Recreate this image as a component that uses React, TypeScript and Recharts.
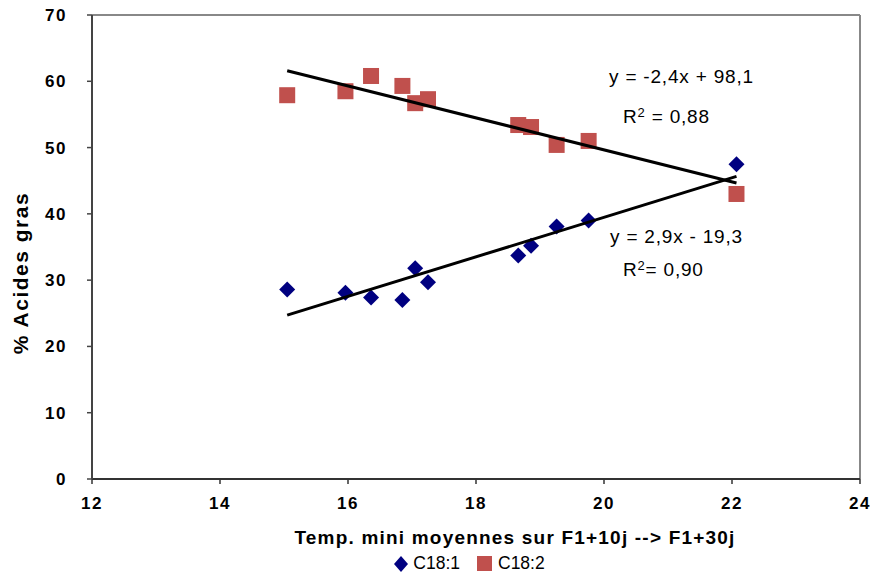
import {
  Legend,
  ReferenceLine,
  Scatter,
  ScatterChart,
  XAxis,
  YAxis,
} from 'recharts'

// temperatures (same for both fatty acids)
const temperatures = [15.05, 15.96, 16.36, 16.85, 17.05, 17.25, 18.66, 18.86, 19.26, 19.76, 22.07]
const c181 = [28.6, 28.1, 27.4, 27.0, 31.8, 29.7, 33.7, 35.2, 38.1, 39.0, 47.5]
const c182 = [57.9, 58.5, 60.8, 59.3, 56.7, 57.3, 53.4, 53.1, 50.4, 51.0, 43.0]

const xTicks = [12, 14, 16, 18, 20, 22, 24]
const yTicks = [0, 10, 20, 30, 40, 50, 60, 70]

const equations = [
  { eq: 'y = -2,4x + 98,1', r2: '0,88' },
  { eq: 'y = 2,9x - 19,3', r2: '0,90' },
]

const dataC181 = temperatures.map((x, i) => ({ x, y: c181[i] }))
const dataC182 = temperatures.map((x, i) => ({ x, y: c182[i] }))

const FONT = '"Liberation Sans", Arial, sans-serif'
const BLUE = '#000080'
const RED = '#C0504D'

const Diamond = (props: any) => {
  const { cx, cy } = props
  if (cx == null || cy == null) return <g />
  const r = 8
  return (
    <polygon
      points={`${cx},${cy - r} ${cx + r},${cy} ${cx},${cy + r} ${cx - r},${cy}`}
      fill={BLUE}
    />
  )
}

const Square = (props: any) => {
  const { cx, cy } = props
  if (cx == null || cy == null) return <g />
  return <rect x={cx - 8} y={cy - 8} width={16} height={16} fill={RED} />
}

const NoDot = () => <g />

const renderLegend = (props: any) => {
  const items = (props.payload || []).filter((p: any) => p.type !== 'none')
  return (
    <div
      style={{
        display: 'flex',
        justifyContent: 'center',
        alignItems: 'center',
        paddingLeft: 68,
        fontFamily: FONT,
        fontSize: '17.5px',
        color: '#000',
        height: 25,
        gap: 17,
      }}
    >
      {items.map((item: any) => (
        <div key={item.value} style={{ display: 'flex', alignItems: 'center' }}>
          {item.value === 'C18:1' ? (
            <svg width={14} height={16} style={{ marginRight: 5, flexShrink: 0 }}>
              <polygon points="7,0 14,8 7,16 0,8" fill={BLUE} />
            </svg>
          ) : (
            <svg width={15} height={15} style={{ marginRight: 6, flexShrink: 0 }}>
              <rect x={0} y={0} width={15} height={15} fill={RED} />
            </svg>
          )}
          <span>{item.value}</span>
        </div>
      ))}
    </div>
  )
}

const eqStyle = {
  position: 'absolute' as const,
  fontFamily: FONT,
  fontSize: 19,
  letterSpacing: 0.8,
  lineHeight: '20px',
  color: '#000',
  whiteSpace: 'nowrap' as const,
}

export default function App() {
  return (
    <div style={{ position: 'absolute', left: 0, top: 0, width: 871, height: 576, background: '#fff' }}>
      <ScatterChart
        width={871}
        height={576}
        margin={{ top: 15, right: 11, bottom: 0, left: 0 }}
      >
        <XAxis
          type="number"
          dataKey="x"
          domain={[12, 24]}
          ticks={xTicks}
          interval={0}
          tickSize={5}
          tickMargin={13}
          height={72}
          axisLine={{ stroke: '#333', strokeWidth: 2 }}
          tickLine={{ stroke: '#333', strokeWidth: 1.5 }}
          tick={{ fontSize: 17, fontWeight: 'bold', fill: '#000', fontFamily: FONT, letterSpacing: 1.5 }}
          label={{
            content: () => (
              <text
                x={515}
                y={537}
                textAnchor="middle"
                dominantBaseline="central"
                fontFamily={FONT}
                fontWeight="bold"
                fontSize={19}
                letterSpacing={1.2}
                fill="#000"
              >
                Temp. mini moyennes sur F1+10j --&gt; F1+30j
              </text>
            ),
          }}
        />
        <YAxis
          type="number"
          dataKey="y"
          domain={[0, 70]}
          ticks={yTicks}
          interval={0}
          width={92}
          tickSize={5}
          tickMargin={20}
          axisLine={{ stroke: '#444', strokeWidth: 2 }}
          tickLine={{ stroke: '#444', strokeWidth: 1.5 }}
          tick={{ fontSize: 17, fontWeight: 'bold', fill: '#000', fontFamily: FONT, letterSpacing: 1.5 }}
          label={{
            content: () => (
              <text
                x={20}
                y={273}
                transform="rotate(-90 20 273)"
                textAnchor="middle"
                dominantBaseline="central"
                fontFamily={FONT}
                fontWeight="bold"
                fontSize={21}
                letterSpacing={1.5}
                fill="#000"
              >
                % Acides gras
              </text>
            ),
          }}
        />
        <ReferenceLine y={70} stroke="#888" strokeWidth={2} ifOverflow="visible" />
        <ReferenceLine x={24} stroke="#888" strokeWidth={2} ifOverflow="visible" />
        <Scatter
          name="C18:1"
          data={dataC181}
          shape={Diamond}
          legendType="diamond"
          fill={BLUE}
          isAnimationActive={false}
        />
        <Scatter
          name="C18:2"
          data={dataC182}
          shape={Square}
          legendType="square"
          fill={RED}
          isAnimationActive={false}
        />
        {/* linear trend lines drawn on top of the markers */}
        <Scatter
          name="trend C18:2"
          data={dataC182}
          shape={NoDot}
          line={{ stroke: '#000', strokeWidth: 3 }}
          lineType="fitting"
          legendType="none"
          isAnimationActive={false}
        />
        <Scatter
          name="trend C18:1"
          data={dataC181}
          shape={NoDot}
          line={{ stroke: '#000', strokeWidth: 3 }}
          lineType="fitting"
          legendType="none"
          isAnimationActive={false}
        />
        <Legend
          verticalAlign="bottom"
          height={25}
          wrapperStyle={{ left: 0, width: 871 }}
          content={renderLegend}
        />
      </ScatterChart>

      <div style={{ ...eqStyle, left: 609, top: 67 }}>{equations[0].eq}</div>
      <div style={{ ...eqStyle, left: 623, top: 107 }}>
        R<sup style={{ fontSize: 13, verticalAlign: 'top', lineHeight: '12px' }}>2</sup> = {equations[0].r2}
      </div>
      <div style={{ ...eqStyle, left: 610, top: 227 }}>{equations[1].eq}</div>
      <div style={{ ...eqStyle, left: 623, top: 260 }}>
        R<sup style={{ fontSize: 13, verticalAlign: 'top', lineHeight: '12px' }}>2</sup>= {equations[1].r2}
      </div>
    </div>
  )
}
